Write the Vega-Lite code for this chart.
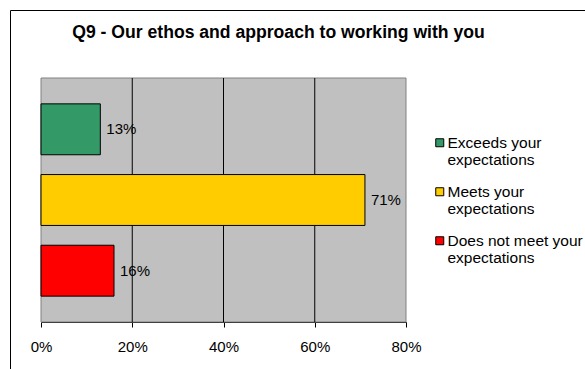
{
  "$schema": "https://vega.github.io/schema/vega-lite/v6.json",
  "width": 580,
  "height": 370,
  "autosize": {"type": "none"},
  "padding": {"left": 10, "top": 10, "right": 0, "bottom": 0},
  "background": "white",
  "title": {
    "text": "Q9 - Our ethos and approach to working with you",
    "font": "Liberation Sans",
    "fontSize": 17.6,
    "fontWeight": "bold",
    "color": "#000000",
    "anchor": "middle",
    "frame": "group",
    "dx": -21.5,
    "baseline": "alphabetic",
    "offset": -46
  },
  "datasets": {
    "answers": [
      {"category": "Exceeds your expectations", "value": 0.13},
      {"category": "Meets your expectations", "value": 0.71},
      {"category": "Does not meet your expectations", "value": 0.16}
    ],
    "grid": [{"tick": 0.2}, {"tick": 0.4}, {"tick": 0.6}],
    "panel": [{"area": "plot"}]
  },
  "layer": [
    {
      "layer": [
        {
          "data": {"name": "panel"},
          "mark": {"type": "rect", "fill": "#C0C0C0", "stroke": "#808080", "strokeWidth": 1},
          "encoding": {
            "x": {
              "datum": 0,
              "type": "quantitative",
              "scale": {"domain": [0, 0.8], "range": [31, 396], "nice": false},
              "axis": {
                "title": null,
                "values": [0, 0.2, 0.4, 0.6, 0.8],
                "format": ".0%",
                "offset": -58,
                "grid": false,
                "labelFlush": false,
                "labelAlign": "center",
                "domainColor": "#000000",
                "domainWidth": 1,
                "tickColor": "#000000",
                "tickSize": 5,
                "tickWidth": 1,
                "labelFont": "Liberation Sans",
                "labelFontSize": 15,
                "labelColor": "#000000",
                "labelPadding": 12
              }
            },
            "x2": {"datum": 0.8},
            "y": {"datum": 0, "type": "quantitative", "scale": {"domain": [0, 1], "range": [68, 312], "nice": false}, "axis": null},
            "y2": {"datum": 1}
          }
        },
        {
          "data": {"name": "grid"},
          "mark": {"type": "rule", "color": "#000000", "strokeWidth": 1},
          "encoding": {
            "x": {"field": "tick", "type": "quantitative"},
            "y": {"datum": 0, "type": "quantitative"},
            "y2": {"datum": 1}
          }
        }
      ]
    },
    {
      "data": {"name": "answers"},
      "layer": [
        {
          "mark": {"type": "bar", "stroke": "#000000", "strokeWidth": 1},
          "encoding": {
            "x": {"field": "value", "type": "quantitative"},
            "y": {
              "field": "category",
              "type": "nominal",
              "sort": null,
              "axis": null,
              "scale": {"range": [68, 312], "paddingInner": 0.28, "paddingOuter": 0.366}
            },
            "fill": {
              "field": "category",
              "type": "nominal",
              "scale": {
                "domain": ["Exceeds your expectations", "Meets your expectations", "Does not meet your expectations"],
                "range": ["#339966", "#FFCC00", "#FF0000"]
              },
              "legend": {
                "title": null,
                "orient": "none",
                "legendX": 422,
                "legendY": 125,
                "padding": 0,
                "symbolType": "square",
                "symbolSize": 64,
                "symbolStrokeColor": "#000000",
                "symbolStrokeWidth": 1,
                "labelFont": "Liberation Sans",
                "labelFontSize": 15.5,
                "labelColor": "#000000",
                "labelOffset": 0,
                "labelLimit": 0,
                "rowPadding": 15,
                "labelExpr": "[slice(datum.label, 0, indexof(datum.label, ' expectations')), 'expectations']"
              }
            }
          }
        },
        {
          "mark": {"type": "text", "align": "left", "baseline": "middle", "dx": 6, "font": "Liberation Sans", "fontSize": 15, "color": "#000000"},
          "encoding": {
            "x": {"field": "value", "type": "quantitative"},
            "y": {"field": "category", "type": "nominal", "sort": null, "axis": null},
            "text": {"field": "value", "type": "quantitative", "format": ".0%"}
          }
        }
      ]
    }
  ],
  "resolve": {"scale": {"y": "independent"}, "axis": {"y": "independent"}},
  "config": {
    "view": {"stroke": "#000000", "strokeWidth": 1, "fill": "white"},
    "font": "Liberation Sans"
  }
}
